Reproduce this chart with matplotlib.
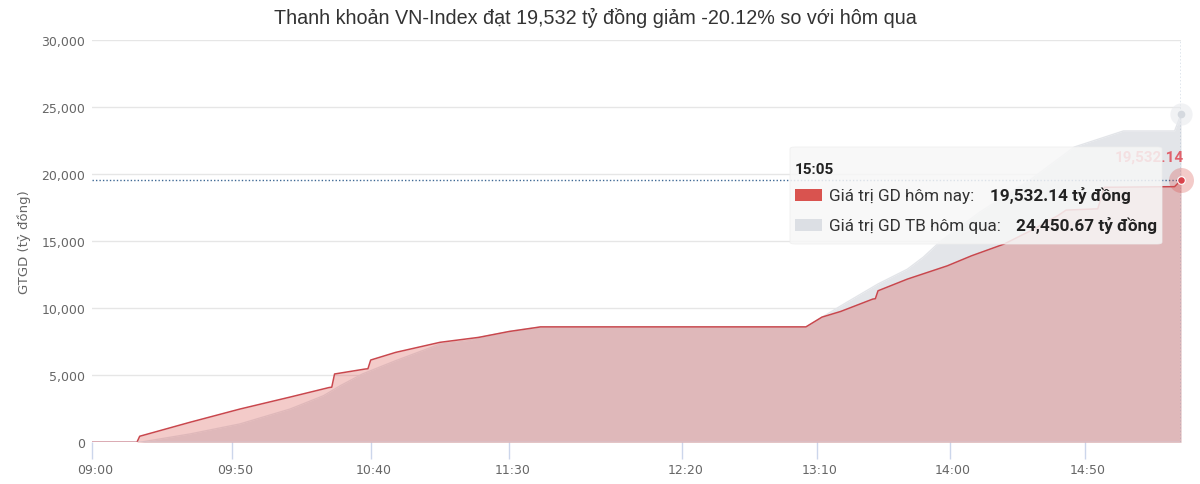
import numpy as np
import matplotlib
matplotlib.use("Agg")
import matplotlib.pyplot as plt
from matplotlib.patches import FancyBboxPatch, Rectangle
from matplotlib.ticker import FuncFormatter
from matplotlib.transforms import ScaledTranslation

# ---------------- data ----------------
title = "Thanh khoản VN-Index đạt 19,532 tỷ đồng giảm -20.12% so với hôm qua"
y_label = "GTGD (tỷ đồng)"
series_names = ["Giá trị GD hôm nay:", "Giá trị GD TB hôm qua:"]
unit = "tỷ đồng"

today_times = ["09:00", "09:16", "09:17", "09:35", "09:53", "10:11", "10:25", "10:26",
               "10:27", "10:38", "10:39", "10:40", "10:49", "11:05", "11:19", "11:30",
               "11:38", "11:39", "13:06", "13:12", "13:19", "13:31", "13:32", "13:33",
               "13:44", "13:59", "14:08", "14:20", "14:31", "14:40", "14:43", "14:52",
               "14:53", "15:04", "15:05"]
today_values = [0, 0, 450, 1490, 2480, 3370, 4080, 4110,
                5090, 5460, 5480, 6130, 6700, 7450, 7820, 8260,
                8560, 8600, 8600, 9330, 9750, 10670, 10700, 11290,
                12160, 13150, 13900, 14770, 15880, 16900, 17300, 17400,
                19000, 19050, 19532.14]

yday_times = ["09:00", "09:17", "09:35", "09:53", "10:11", "10:23", "10:29", "10:37",
              "10:49", "11:05", "11:16", "11:19", "11:30", "11:38", "11:39", "13:06",
              "13:21", "13:33", "13:44", "13:50", "13:56", "14:11", "14:30", "14:46",
              "14:56", "15:04", "15:05"]
yday_values = [0, 0, 620, 1370, 2480, 3470, 4210, 5090,
               6080, 7320, 7600, 7820, 8260, 8560, 8600, 8600,
               10400, 11800, 12900, 13800, 14900, 17150, 19600, 22000,
               23200, 23200, 24450.67]

x_tick_labels = ["09:00", "09:50", "10:40", "11:30", "12:20", "13:10", "14:00", "14:50"]
y_ticks = [0, 5000, 10000, 15000, 20000, 25000, 30000]
hover_time = "15:05"


def to_min(t):
    h, m = t.split(":")
    return (int(h) - 9) * 60 + int(m)


tx = np.array([to_min(t) for t in today_times], float)
ty = np.array(today_values, float)
gx = np.array([to_min(t) for t in yday_times], float)
gy = np.array(yday_values, float)
hx = to_min(hover_time)

# ---------------- category-like time scale (non uniform spacing) ----------------
A_MIN = np.array([0, 50, 100, 150, 200, 250, 300, 350, 365], float)
A_POS = np.array([92.3, 231.7, 370.7, 509.3, 682.3, 816.7, 950.0, 1085.0, 1181.0])
S0 = (A_POS[1] - A_POS[0]) / (A_MIN[1] - A_MIN[0])
S1 = (A_POS[-1] - A_POS[-2]) / (A_MIN[-1] - A_MIN[-2])


def fwd(m):
    m = np.asarray(m, dtype=float)
    out = np.interp(m, A_MIN, A_POS)
    out = np.where(m < A_MIN[0], A_POS[0] + (m - A_MIN[0]) * S0, out)
    out = np.where(m > A_MIN[-1], A_POS[-1] + (m - A_MIN[-1]) * S1, out)
    return out


def inv(p):
    p = np.asarray(p, dtype=float)
    out = np.interp(p, A_POS, A_MIN)
    out = np.where(p < A_POS[0], A_MIN[0] + (p - A_POS[0]) / S0, out)
    out = np.where(p > A_POS[-1], A_MIN[-1] + (p - A_POS[-1]) / S1, out)
    return out


# ---------------- figure ----------------
W, H = 1200, 485
fig = plt.figure(figsize=(W / 100, H / 100), dpi=100)
fig.patch.set_facecolor("white")

left_px, right_px, top_px, bot_px = 92.3, 1181.0, 40.7, 443.3
ax = fig.add_axes([left_px / W, 1 - bot_px / H, (right_px - left_px) / W, (bot_px - top_px) / H])
ax.set_xscale("function", functions=(fwd, inv))
ax.set_xlim(0, hx)
ax.set_ylim(0, 30000)

for s in ax.spines.values():
    s.set_visible(False)

# grid
for yv in y_ticks[1:]:
    ax.axhline(yv, color="#e6e6e6", lw=1, zorder=0)
ax.axhline(0, color="#ccd6eb", lw=1, zorder=4)

# series
gray_fill = "#e3e5e9"
red = "#c9474d"
ax.fill_between(gx, gy, 0, color=gray_fill, lw=0, zorder=1)
ax.plot(gx, gy, color=gray_fill, lw=1, zorder=1)
ax.fill_between(tx, ty, 0, color="#d9534f", alpha=0.3, lw=0, zorder=2)
ax.plot(tx, ty, color=red, lw=1.1, zorder=3)

# crosshairs
ax.axvline(hx, color="#5a7ca3", lw=1, ls=(0, (1, 1.5)), zorder=5)
ax.axhline(today_values[-1], color="#3f6995", lw=1, ls=(0, (1, 1.5)), zorder=5)

# markers
ax.plot([hx], [yday_values[-1]], "o", ms=16, color="#e8eaee", alpha=0.6, mec="none", clip_on=False, zorder=6)
ax.plot([hx], [yday_values[-1]], "o", ms=5.5, color="#d5d9df", mec="none", clip_on=False, zorder=7)
ax.plot([hx], [today_values[-1]], "o", ms=18, color="#d9534f", alpha=0.3, mec="none", clip_on=False, zorder=6)
ax.plot([hx], [today_values[-1]], "o", ms=5.5, color="#d9434b", mec="white", mew=0.8, clip_on=False, zorder=7)

# data label
ax.annotate(f"{today_values[-1]:,.2f}", xy=(hx, today_values[-1]), xytext=(2, 17),
            textcoords="offset points", ha="right", va="center", fontsize=11,
            fontweight="bold", family="Roboto", color="#e0606b", zorder=8,
            annotation_clip=False)

# ticks
ax.set_yticks(y_ticks)
ax.yaxis.set_major_formatter(FuncFormatter(lambda v, p: f"{int(v):,}"))
ax.tick_params(axis="y", length=0, pad=5, labelsize=9, labelcolor="#666666")
ax.set_xticks([to_min(t) for t in x_tick_labels])
ax.set_xticklabels(x_tick_labels)
ax.tick_params(axis="x", length=12, width=1, color="#ccd6eb", pad=3, labelsize=9,
               labelcolor="#666666")
for lab in ax.get_xticklabels():
    lab.set_transform(lab.get_transform() + ScaledTranslation(3 / 100, 0, fig.dpi_scale_trans))
for lab in ax.get_xticklabels() + ax.get_yticklabels():
    lab.set_family("DejaVu Sans")

ax.set_ylabel(y_label, fontsize=9.5, color="#666666", family="DejaVu Sans")
ax.yaxis.set_label_coords((31 - left_px) / (right_px - left_px), 0.5)

# title
fig.text(595 / W, 1 - 18 / H, title, ha="center", va="center", fontsize=14.2,
         color="#333333", family="Liberation Sans")


# ---------------- tooltip ----------------
def fx(px):
    return px / W


def fy(py):
    return 1 - py / H


tip = FancyBboxPatch((fx(790), fy(245)), fx(1162) - fx(790), fy(148) - fy(245),
                     boxstyle="round,pad=0,rounding_size=0.004", transform=fig.transFigure,
                     facecolor="#f7f7f7", alpha=0.85, edgecolor="#eeeeee", lw=0.6, zorder=10)
fig.patches.append(tip)
fig.text(fx(795), fy(170), hover_time, ha="left", va="center", fontsize=11,
         fontweight="bold", family="Roboto", color="#222222", zorder=11)
fig.patches.append(Rectangle((fx(795), fy(202)), fx(822) - fx(795), fy(190) - fy(202),
                             transform=fig.transFigure, facecolor="#d9534f", lw=0, zorder=11))
fig.patches.append(Rectangle((fx(795), fy(232)), fx(822) - fx(795), fy(220) - fy(232),
                             transform=fig.transFigure, facecolor="#dcdfe4", lw=0, zorder=11))
fig.text(fx(829), fy(196), series_names[0], ha="left", va="center", fontsize=12.3,
         family="Roboto", color="#333333", zorder=11)
fig.text(fx(990), fy(196), f"{today_values[-1]:,.2f} {unit}", ha="left", va="center",
         fontsize=12.3, fontweight="bold", family="Roboto", color="#222222", zorder=11)
fig.text(fx(829), fy(226), series_names[1], ha="left", va="center", fontsize=12.3,
         family="Roboto", color="#333333", zorder=11)
fig.text(fx(1016), fy(226), f"{yday_values[-1]:,.2f} {unit}", ha="left", va="center",
         fontsize=12.3, fontweight="bold", family="Roboto", color="#222222", zorder=11)

fig.savefig("out.png", dpi=100, facecolor="white")
